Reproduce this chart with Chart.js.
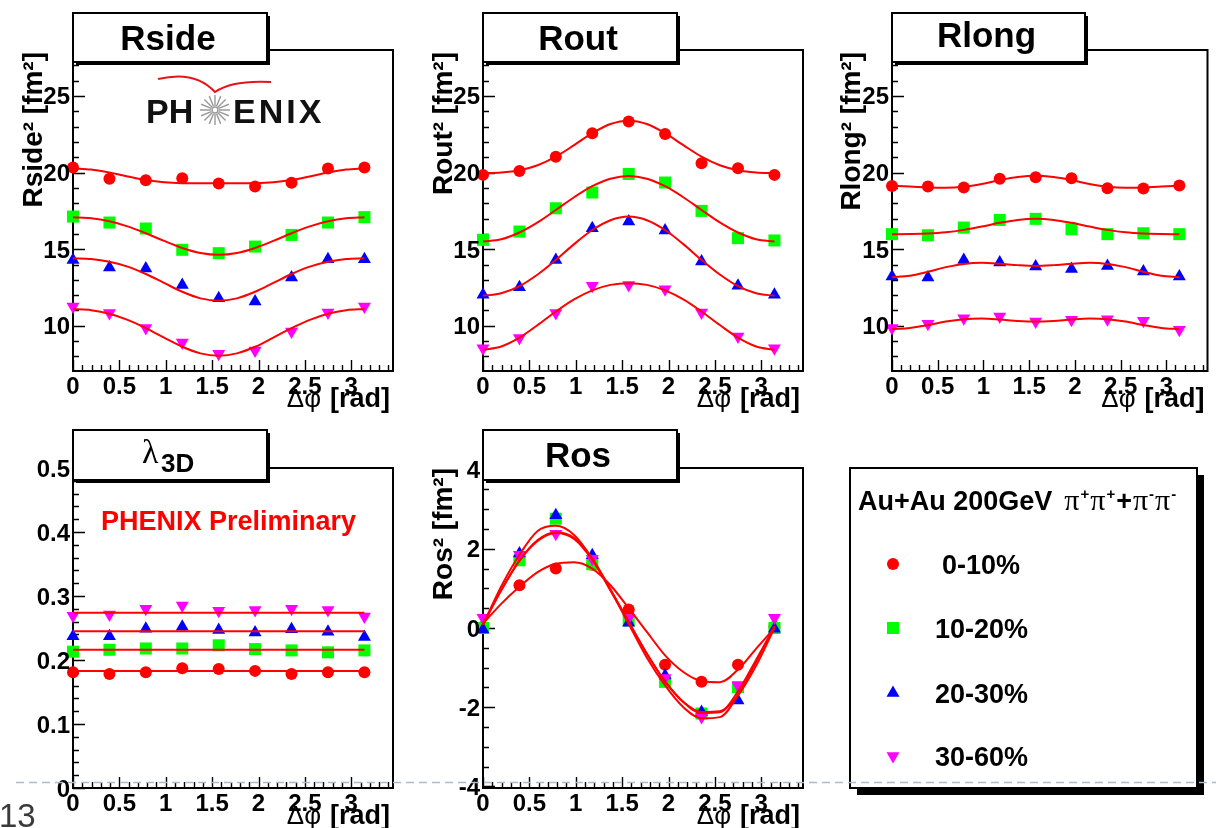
<!DOCTYPE html>
<html>
<head>
<meta charset="utf-8">
<script src="https://cdn.jsdelivr.net/npm/chart.js@4.4.1/dist/chart.umd.min.js"></script>
<style>
  html, body { margin: 0; padding: 0; background: #fff; }
  #page { position: relative; width: 1216px; height: 828px; overflow: hidden; background: #fff; }
  #page canvas { position: absolute; }
  #guide { position: absolute; left: 0; top: 0; pointer-events: none; z-index: 10; }
</style>
</head>
<body>
<div id="page">
  <canvas id="cRside" width="410" height="420" style="left:0px;top:0px"></canvas>
  <canvas id="cRout" width="410" height="420" style="left:410px;top:0px"></canvas>
  <canvas id="cRlong" width="406" height="420" style="left:810px;top:0px"></canvas>
  <canvas id="cLambda" width="410" height="408" style="left:0px;top:420px"></canvas>
  <canvas id="cRos" width="410" height="408" style="left:410px;top:420px"></canvas>
  <canvas id="cLegend" width="396" height="408" style="left:820px;top:420px"></canvas>
  <svg id="guide" width="1216" height="828"><line x1="16" y1="782.5" x2="1216" y2="782.5" stroke="#a9bccd" stroke-width="1.6" stroke-dasharray="8 5"/></svg>
</div>
<script>
// ---------------- DATA ----------------
const phiBins = [0, 0.393, 0.785, 1.178, 1.571, 1.963, 2.356, 2.749, 3.142];
const phiFine = [0, 0.196, 0.393, 0.589, 0.785, 0.982, 1.178, 1.374, 1.571, 1.767, 1.963, 2.160, 2.356, 2.553, 2.749, 2.945, 3.142];
const centralities = ['0-10%', '10-20%', '20-30%', '30-60%'];
const phiTickLabels = ['0', '0.5', '1', '1.5', '2', '2.5', '3'];
const radiusTickLabels = ['10', '15', '20', '25'];
const lambdaTickLabels = ['0', '0.1', '0.2', '0.3', '0.4', '0.5'];
const rosTickLabels = ['-4', '-2', '0', '2', '4'];

// Rside^2
const rside_0_10  = [20.33, 19.59, 19.50, 19.63, 19.28, 19.09, 19.33, 20.26, 20.33];
const rside_10_20 = [17.13, 16.74, 16.35, 14.96, 14.74, 15.17, 15.93, 16.74, 17.09];
const rside_20_30 = [14.30, 13.80, 13.74, 12.67, 11.80, 11.59, 13.15, 14.35, 14.35];
const rside_30_60 = [11.26, 10.83, 9.85, 8.91, 8.17, 8.39, 9.63, 10.87, 11.26];
const rsideFit_0_10  = [20.28, 20.20, 20.00, 19.75, 19.52, 19.37, 19.31, 19.30, 19.30, 19.30, 19.31, 19.37, 19.52, 19.75, 20.00, 20.20, 20.28];
const rsideFit_10_20 = [17.09, 17.02, 16.82, 16.49, 16.04, 15.54, 15.08, 14.75, 14.63, 14.75, 15.08, 15.54, 16.04, 16.49, 16.82, 17.02, 17.09];
const rsideFit_20_30 = [14.41, 14.36, 14.18, 13.86, 13.38, 12.80, 12.22, 11.79, 11.63, 11.79, 12.22, 12.80, 13.38, 13.86, 14.18, 14.36, 14.41];
const rsideFit_30_60 = [11.09, 11.02, 10.79, 10.39, 9.85, 9.23, 8.63, 8.20, 8.05, 8.20, 8.63, 9.23, 9.85, 10.39, 10.79, 11.02, 11.09];

// Rout^2
const rout_0_10  = [19.85, 20.11, 21.04, 22.57, 23.33, 22.52, 20.61, 20.28, 19.85];
const rout_10_20 = [15.61, 16.15, 17.67, 18.70, 19.91, 19.35, 17.50, 15.72, 15.57];
const rout_20_30 = [12.02, 12.52, 14.30, 16.37, 16.80, 16.22, 14.20, 12.61, 12.02];
const rout_30_60 = [8.54, 9.20, 10.83, 12.61, 12.67, 12.39, 10.87, 9.30, 8.54];
const routFit_0_10  = [19.96, 20.00, 20.15, 20.48, 21.04, 21.79, 22.57, 23.17, 23.39, 23.17, 22.57, 21.79, 21.04, 20.48, 20.15, 20.00, 19.96];
const routFit_10_20 = [15.50, 15.65, 16.09, 16.75, 17.56, 18.39, 19.11, 19.60, 19.78, 19.60, 19.11, 18.39, 17.56, 16.75, 16.09, 15.65, 15.50];
const routFit_20_30 = [11.96, 12.12, 12.59, 13.35, 14.30, 15.33, 16.25, 16.89, 17.13, 16.89, 16.25, 15.33, 14.30, 13.35, 12.59, 12.12, 11.96];
const routFit_30_60 = [8.43, 8.65, 9.23, 10.05, 10.93, 11.72, 12.31, 12.67, 12.78, 12.67, 12.31, 11.72, 10.93, 10.05, 9.23, 8.65, 8.43];

// Rlong^2
const rlong_0_10  = [19.13, 19.09, 19.02, 19.59, 19.70, 19.63, 18.98, 18.96, 19.15];
const rlong_10_20 = [15.98, 15.91, 16.41, 16.91, 16.98, 16.30, 15.98, 16.04, 15.98];
const rlong_20_30 = [13.22, 13.15, 14.30, 14.13, 13.87, 13.70, 13.91, 13.54, 13.22];
const rlong_30_60 = [9.85, 10.13, 10.50, 10.61, 10.28, 10.39, 10.43, 10.33, 9.74];
const rlongFit_0_10  = [19.13, 19.09, 19.03, 19.01, 19.08, 19.26, 19.51, 19.71, 19.80, 19.71, 19.51, 19.26, 19.08, 19.01, 19.03, 19.09, 19.13];
const rlongFit_10_20 = [15.98, 15.99, 16.02, 16.10, 16.26, 16.48, 16.72, 16.91, 16.98, 16.91, 16.72, 16.48, 16.26, 16.10, 16.02, 15.99, 15.98];
const rlongFit_20_30 = [13.17, 13.27, 13.53, 13.83, 14.04, 14.11, 14.05, 13.96, 13.91, 13.96, 14.05, 14.11, 14.04, 13.83, 13.53, 13.27, 13.17];
const rlongFit_30_60 = [9.78, 9.86, 10.05, 10.28, 10.43, 10.47, 10.41, 10.32, 10.28, 10.32, 10.41, 10.47, 10.43, 10.28, 10.05, 9.86, 9.78];

// lambda_3D
const lambda_0_10  = [0.181, 0.178, 0.181, 0.187, 0.186, 0.183, 0.178, 0.181, 0.181];
const lambda_10_20 = [0.213, 0.216, 0.218, 0.218, 0.223, 0.217, 0.215, 0.212, 0.215];
const lambda_20_30 = [0.237, 0.237, 0.249, 0.252, 0.247, 0.243, 0.248, 0.244, 0.236];
const lambda_30_60 = [0.269, 0.271, 0.280, 0.285, 0.277, 0.278, 0.280, 0.278, 0.268];
const lambdaFitLevels = [0.183, 0.216, 0.245, 0.274];
const lambdaFitRange = [0, 3.142];

// Ros^2
const ros_0_10  = [0.03, 1.08, 1.50, 1.60, 0.47, -0.93, -1.36, -0.93, 0.03];
const ros_10_20 = [0.00, 1.71, 2.76, 1.61, 0.19, -1.36, -2.16, -1.49, 0.00];
const ros_20_30 = [-0.04, 1.88, 2.85, 1.84, 0.13, -1.20, -2.12, -1.83, -0.02];
const ros_30_60 = [0.26, 1.85, 2.38, 1.75, 0.25, -1.26, -2.25, -1.45, 0.26];
const rosFit_0_10  = [0.11, 0.61, 1.04, 1.41, 1.62, 1.66, 1.50, 1.08, 0.50, -0.10, -0.69, -1.11, -1.34, -1.37, -1.05, -0.52, 0.00];
const rosFit_10_20 = [0.08, 0.95, 1.70, 2.22, 2.42, 2.28, 1.75, 0.98, 0.15, -0.65, -1.35, -1.87, -2.15, -2.13, -1.60, -0.80, 0.02];
const rosFit_20_30 = [0.08, 1.05, 1.85, 2.45, 2.58, 2.35, 1.75, 0.95, 0.15, -0.65, -1.35, -1.87, -2.12, -2.10, -1.70, -0.95, 0.00];
const rosFit_30_60 = [0.10, 0.95, 1.70, 2.20, 2.40, 2.25, 1.72, 0.95, 0.10, -0.75, -1.45, -2.00, -2.28, -2.25, -1.70, -0.85, 0.05];

// ---------------- STYLE ----------------
const SANS = '"Liberation Sans", Arial, Helvetica, sans-serif';
const SERIF = '"Liberation Serif", "DejaVu Serif", serif';
const seriesStyles = [
  { color: '#ff0000', style: 'circle', radius: 6, rot: 0, order: 4 },
  { color: '#00ff00', style: 'rect', radius: 8.5, rot: 0, order: 3 },
  { color: '#0000ff', style: 'triangle', radius: 7.5, rot: 0, order: 2 },
  { color: '#ff00ff', style: 'triangle', radius: 7.5, rot: 180, order: 1 }
];
const FIT_COLOR = '#ff0000';

function pointDataset(vals, k) {
  const s = seriesStyles[k];
  return {
    label: centralities[k],
    data: phiBins.map((x, i) => ({ x: x, y: vals[i] })),
    showLine: false,
    pointStyle: s.style, pointRadius: s.radius, pointRotation: s.rot,
    pointBackgroundColor: s.color, pointBorderColor: s.color, pointBorderWidth: 0,
    order: s.order, clip: false
  };
}
function fitDataset(xs, vals) {
  return {
    data: xs.map((x, i) => ({ x: x, y: vals[i] })),
    showLine: true, pointRadius: 0, borderColor: FIT_COLOR, borderWidth: 2,
    cubicInterpolationMode: 'monotone', order: 0, clip: false
  };
}

function ticksAt(min, max, step, fn) {
  const i0 = Math.ceil(min / step - 1e-6), i1 = Math.floor(max / step + 1e-6);
  for (let i = i0; i <= i1; i++) fn(i * step);
}

function makeDecor(spec) {
  return {
    id: 'decor',
    beforeDatasetsDraw(chart) {
      const ctx = chart.ctx, a = chart.chartArea, xs = chart.scales.x, ys = chart.scales.y;
      ctx.save();
      ctx.strokeStyle = '#000';
      ctx.lineWidth = 1.4;
      ctx.beginPath();
      ticksAt(ys.min, ys.max, spec.yMinor, v => { const p = Math.round(ys.getPixelForValue(v)) + 0.5; ctx.moveTo(a.left, p); ctx.lineTo(a.left + 6, p); });
      ticksAt(ys.min, ys.max, spec.yMajor, v => { const p = Math.round(ys.getPixelForValue(v)) + 0.5; ctx.moveTo(a.left, p); ctx.lineTo(a.left + 12, p); });
      ticksAt(xs.min, xs.max, 0.1, v => { const p = Math.round(xs.getPixelForValue(v)) + 0.5; ctx.moveTo(p, a.bottom); ctx.lineTo(p, a.bottom - 6); });
      ticksAt(xs.min, xs.max, 0.5, v => { const p = Math.round(xs.getPixelForValue(v)) + 0.5; ctx.moveTo(p, a.bottom); ctx.lineTo(p, a.bottom - 11); });
      ctx.stroke();
      ctx.lineWidth = 2;
      ctx.strokeRect(a.left, a.top, a.right - a.left, a.bottom - a.top);
      ctx.restore();
    },
    afterDraw(chart) {
      const ctx = chart.ctx, a = chart.chartArea, xs = chart.scales.x, ys = chart.scales.y;
      ctx.save();
      ctx.fillStyle = '#000';
      // tick labels
      ctx.font = 'bold 24px ' + SANS;
      ctx.textBaseline = 'alphabetic';
      ctx.textAlign = 'right';
      spec.yLabels.forEach(t => ctx.fillText(t, a.left - 3, ys.getPixelForValue(parseFloat(t)) + 8.5));
      ctx.textAlign = 'center';
      phiTickLabels.forEach(t => ctx.fillText(t, xs.getPixelForValue(parseFloat(t)), a.bottom + 23));
      // x title
      ctx.textAlign = 'right';
      ctx.font = 'bold 27px ' + SANS;
      const rx = a.right - 3, by = a.bottom + 36;
      ctx.fillText('[rad]', rx, by);
      const w = ctx.measureText('[rad]').width;
      ctx.font = '26px ' + SANS;
      ctx.fillText('Δφ', rx - w - 9, by);
      // y title
      if (spec.yTitle) {
        ctx.save();
        ctx.translate(spec.yTitleX, spec.yTitleEnd);
        ctx.rotate(-Math.PI / 2);
        ctx.textAlign = 'right';
        ctx.font = 'bold 28px ' + SANS;
        ctx.fillText(spec.yTitle, 0, 0);
        ctx.restore();
      }
      // title box
      const b = spec.box;
      ctx.fillStyle = '#000';
      ctx.fillRect(b.x + 3, b.y + 3, b.w, b.h);
      ctx.fillStyle = '#fff';
      ctx.fillRect(b.x, b.y, b.w, b.h);
      ctx.strokeStyle = '#000'; ctx.lineWidth = 2;
      ctx.strokeRect(b.x, b.y, b.w, b.h);
      ctx.fillStyle = '#000';
      if (spec.titleDraw) spec.titleDraw(ctx, b);
      else {
        ctx.textAlign = 'center';
        ctx.font = 'bold 35px ' + SANS;
        ctx.fillText(spec.title, b.x + b.w / 2 - 2, b.y + (spec.titleDy || 37));
      }
      if (spec.extra) spec.extra(ctx, a);
      ctx.restore();
    }
  };
}

function makePanel(id, spec) {
  return new Chart(document.getElementById(id), {
    type: 'scatter',
    data: { datasets: spec.datasets },
    options: {
      responsive: false, animation: false, devicePixelRatio: 1, events: [],
      layout: { padding: spec.pad },
      plugins: { legend: { display: false }, tooltip: { enabled: false } },
      scales: {
        x: { type: 'linear', display: false, min: 0, max: 3.45 },
        y: { type: 'linear', display: false, min: spec.yMin, max: spec.yMax }
      }
    },
    plugins: [makeDecor(spec)]
  });
}

function radiusDatasets(pts, fits) {
  const ds = [];
  pts.forEach((p, k) => ds.push(pointDataset(p, k)));
  fits.forEach(f => ds.push(fitDataset(phiFine, f)));
  return ds;
}

const padTop = { left: 73, top: 50, right: 17, bottom: 49 };
const padBot = { left: 73, top: 48, right: 17, bottom: 40 };

// Rside
makePanel('cRside', {
  datasets: radiusDatasets([rside_0_10, rside_10_20, rside_20_30, rside_30_60], [rsideFit_0_10, rsideFit_10_20, rsideFit_20_30, rsideFit_30_60]),
  pad: padTop, yMin: 7.05, yMax: 28, yMajor: 5, yMinor: 1, yLabels: radiusTickLabels,
  yTitle: 'Rside² [fm²]', yTitleX: 42, yTitleEnd: 52,
  box: { x: 73, y: 13, w: 194, h: 49 }, title: 'Rside',
  extra(ctx) {
    // PHENIX logo
    ctx.fillStyle = '#111';
    ctx.textAlign = 'left';
    ctx.font = 'bold 34px ' + SANS;
    ctx.fillText('PH', 146, 123);
    if ('letterSpacing' in ctx) ctx.letterSpacing = '3px';
    ctx.fillText('ENIX', 233, 123);
    if ('letterSpacing' in ctx) ctx.letterSpacing = '0px';
    ctx.strokeStyle = '#9a9a9a'; ctx.lineWidth = 1.4;
    ctx.beginPath();
    for (let i = 0; i < 16; i++) {
      const t = i * Math.PI / 8;
      ctx.moveTo(215 + 4 * Math.cos(t), 110 + 4 * Math.sin(t));
      ctx.lineTo(215 + 15 * Math.cos(t), 110 + 15 * Math.sin(t));
    }
    ctx.stroke();
    ctx.beginPath(); ctx.arc(215, 110, 3, 0, 2 * Math.PI); ctx.stroke();
    ctx.strokeStyle = '#e8141c'; ctx.lineWidth = 2;
    ctx.beginPath();
    ctx.moveTo(158, 79);
    ctx.quadraticCurveTo(195, 70, 215, 92);
    ctx.quadraticCurveTo(232, 80, 271, 82);
    ctx.stroke();
  }
});

// Rout
makePanel('cRout', {
  datasets: radiusDatasets([rout_0_10, rout_10_20, rout_20_30, rout_30_60], [routFit_0_10, routFit_10_20, routFit_20_30, routFit_30_60]),
  pad: padTop, yMin: 7.05, yMax: 28, yMajor: 5, yMinor: 1, yLabels: radiusTickLabels,
  yTitle: 'Rout² [fm²]', yTitleX: 42, yTitleEnd: 52,
  box: { x: 73, y: 13, w: 194, h: 49 }, title: 'Rout'
});

// Rlong
makePanel('cRlong', {
  datasets: radiusDatasets([rlong_0_10, rlong_10_20, rlong_20_30, rlong_30_60], [rlongFit_0_10, rlongFit_10_20, rlongFit_20_30, rlongFit_30_60]),
  pad: { left: 82, top: 50, right: 6, bottom: 49 }, yMin: 7.05, yMax: 28, yMajor: 5, yMinor: 1, yLabels: radiusTickLabels,
  yTitle: 'Rlong² [fm²]', yTitleX: 50, yTitleEnd: 52,
  box: { x: 82, y: 13, w: 193, h: 49 }, title: 'Rlong', titleDy: 34
});

// lambda 3D
(function () {
  const ds = [];
  [lambda_0_10, lambda_10_20, lambda_20_30, lambda_30_60].forEach((p, k) => ds.push(pointDataset(p, k)));
  lambdaFitLevels.forEach(c => ds.push(fitDataset(lambdaFitRange, [c, c])));
  makePanel('cLambda', {
    datasets: ds, pad: padBot, yMin: 0, yMax: 0.5, yMajor: 0.1, yMinor: 0.02, yLabels: lambdaTickLabels,
    yTitle: null, box: { x: 73, y: 10, w: 194, h: 50 },
    titleDraw(ctx, b) {
      ctx.textAlign = 'left';
      ctx.font = '34px ' + SERIF;
      ctx.fillText('λ', 142, 43);
      ctx.font = 'bold 26px ' + SANS;
      ctx.fillText('3D', 161, 52);
    },
    extra(ctx) {
      ctx.textAlign = 'left';
      ctx.fillStyle = '#ff0000';
      ctx.font = 'bold 27px ' + SANS;
      ctx.fillText('PHENIX Preliminary', 101, 110);
      ctx.fillStyle = '#3a3a3a';
      ctx.font = '33px ' + SANS;
      ctx.fillText('13', -1, 407);
    }
  });
})();

// Ros
makePanel('cRos', {
  datasets: radiusDatasets([ros_0_10, ros_10_20, ros_20_30, ros_30_60], [rosFit_0_10, rosFit_10_20, rosFit_20_30, rosFit_30_60]),
  pad: padBot, yMin: -4.04, yMax: 4.04, yMajor: 2, yMinor: 0.5, yLabels: rosTickLabels,
  yTitle: 'Ros² [fm²]', yTitleX: 42, yTitleEnd: 48,
  box: { x: 73, y: 10, w: 194, h: 50 }, title: 'Ros'
});

// ---------------- LEGEND BOX ----------------
(function () {
  const cv = document.getElementById('cLegend');
  const ctx = cv.getContext('2d');
  const bx = 30, byy = 48, bw = 347, bh = 320;
  ctx.fillStyle = '#000';
  ctx.fillRect(bx + 7, byy + 7, bw, bh);
  ctx.fillStyle = '#fff';
  ctx.fillRect(bx, byy, bw, bh);
  ctx.strokeStyle = '#000'; ctx.lineWidth = 2;
  ctx.strokeRect(bx, byy, bw, bh);
  // header
  ctx.fillStyle = '#000';
  ctx.textAlign = 'left'; ctx.textBaseline = 'alphabetic';
  let x = 38; const y = 90;
  ctx.font = 'bold 27px ' + SANS;
  ctx.fillText('Au+Au 200GeV', x, y);
  x += ctx.measureText('Au+Au 200GeV').width + 12;
  const parts = [
    ['π', '30px ' + SERIF, 0], ['+', 'bold 15px ' + SANS, -11],
    ['π', '30px ' + SERIF, 0], ['+', 'bold 15px ' + SANS, -11],
    ['+', 'bold 27px ' + SANS, 0],
    ['π', '30px ' + SERIF, 0], ['-', 'bold 15px ' + SANS, -11],
    ['π', '30px ' + SERIF, 0], ['-', 'bold 15px ' + SANS, -11]
  ];
  parts.forEach(p => { ctx.font = p[1]; ctx.fillText(p[0], x, y + p[2]); x += ctx.measureText(p[0]).width + 1; });
  // entries
  const rowY = [144, 208, 273, 336];
  const labelX = [122, 115, 115, 115];
  centralities.forEach((lab, k) => {
    const s = seriesStyles[k], cx = 73, cy = rowY[k];
    ctx.fillStyle = s.color;
    ctx.beginPath();
    if (s.style === 'circle') ctx.arc(cx, cy, 6, 0, 2 * Math.PI);
    else if (s.style === 'rect') ctx.rect(cx - 6, cy - 6, 12, 12);
    else {
      const r = 7.5, d = s.rot ? -1 : 1;
      ctx.moveTo(cx, cy - d * r);
      ctx.lineTo(cx + r * 0.866, cy + d * r * 0.5);
      ctx.lineTo(cx - r * 0.866, cy + d * r * 0.5);
      ctx.closePath();
    }
    ctx.fill();
    ctx.fillStyle = '#000';
    ctx.font = 'bold 27px ' + SANS;
    ctx.fillText(lab, labelX[k], cy + 10);
  });
})();
</script>
</body>
</html>
